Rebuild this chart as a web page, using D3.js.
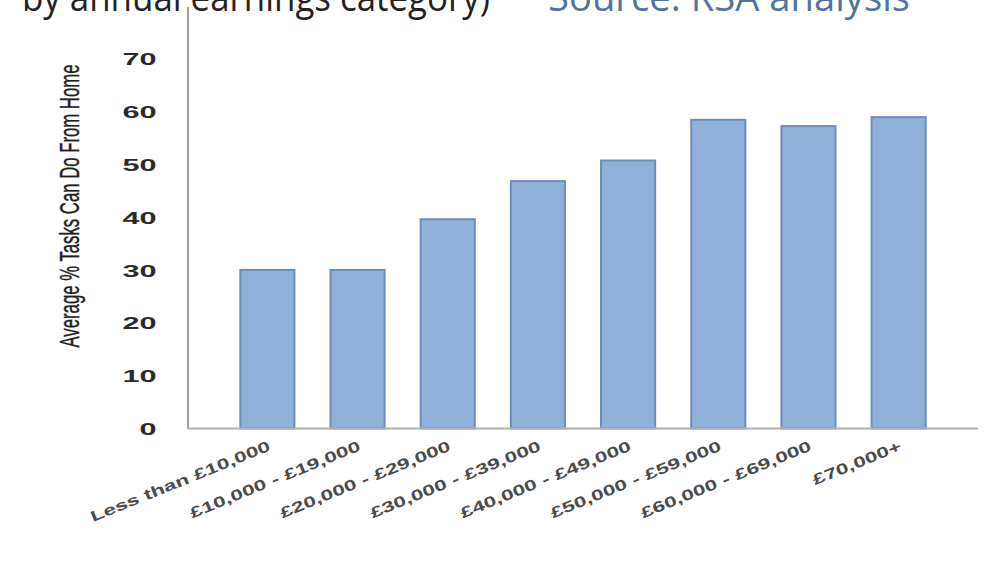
<!DOCTYPE html>
<html>
<head>
<meta charset="utf-8">
<script src="https://cdn.jsdelivr.net/npm/d3@7"></script>
<style>
  html, body { margin: 0; padding: 0; background: #fff; }
  svg { display: block; }
</style>
</head>
<body>
<svg id="chart" width="1002" height="566"></svg>
<script>
'use strict';

var categories = ['Less than £10,000', '£10,000 - £19,000', '£20,000 - £29,000',
                  '£30,000 - £39,000', '£40,000 - £49,000', '£50,000 - £59,000',
                  '£60,000 - £69,000', '£70,000+'];
var values = [30, 30, 39.6, 46.8, 50.7, 58.4, 57.2, 58.9];
var yTicks = [0, 10, 20, 30, 40, 50, 60, 70];
var yLabel = 'Average % Tasks Can Do From Home';
var titleText = 'by annual earnings category)';
var sourceText = 'Source: RSA analysis';

var svg = d3.select('#chart');

var x = d3.scaleBand().domain(categories).range([188, 978])
  .paddingInner(0.4).paddingOuter(0.58);
var y = d3.scaleLinear().domain([0, 80]).range([428.5, 5.6]);

// heading, cropped by the top edge as in the source image
svg.append('text').attr('x', 22).attr('y', 11)
  .style('font-family', 'Open Sans, sans-serif').style('font-size', '38px')
  .attr('fill', '#222').text(titleText)
  .attr('textLength', 468).attr('lengthAdjust', 'spacingAndGlyphs');
svg.append('text').attr('x', 548).attr('y', 11)
  .style('font-family', 'Open Sans, sans-serif').style('font-size', '38px')
  .attr('fill', '#54729f').text(sourceText)
  .attr('textLength', 362).attr('lengthAdjust', 'spacingAndGlyphs');

// bars
svg.append('g').selectAll('rect').data(values).enter().append('rect')
  .attr('x', function(d, i) { return x(categories[i]); })
  .attr('y', function(d) { return y(d); })
  .attr('width', x.bandwidth())
  .attr('height', function(d) { return y(0) - y(d); })
  .attr('fill', '#8fb1d9').attr('stroke', '#6a8dbb').attr('stroke-width', 2);

// axes
var ya = svg.append('g').attr('transform', 'translate(188,0)')
  .call(d3.axisLeft(y).tickValues(yTicks).tickSize(0).tickFormat(d3.format('d')));
ya.select('.domain').remove();
ya.selectAll('text')
  .attr('x', -17.5).attr('dy', '0.36em')
  .attr('transform', 'scale(1.8,1)')
  .style('font-family', 'Liberation Sans, Arial, sans-serif')
  .style('font-size', '17px').style('font-weight', 'bold').attr('fill', '#2a2a2a');

svg.append('line').attr('x1', 188).attr('x2', 188).attr('y1', 7).attr('y2', y(0))
  .attr('stroke', '#a0a0a0').attr('stroke-width', 2);
svg.append('line').attr('x1', 187).attr('x2', 978).attr('y1', y(0)).attr('y2', y(0))
  .attr('stroke', '#b0b0b0').attr('stroke-width', 2);

// rotated category labels
svg.append('g').selectAll('text').data(categories).enter().append('text')
  .attr('transform', function(d) {
    return 'translate(' + (x(d) + x.bandwidth() / 2 + 4) + ',' + 450 + ') rotate(-22) scale(1.5,1)';
  })
  .attr('text-anchor', 'end')
  .style('font-family', 'Liberation Sans, Arial, sans-serif')
  .style('font-size', '15px').style('font-weight', 'bold').attr('fill', '#4a4a4a')
  .text(function(d) { return d; });

// y axis title
svg.append('text')
  .attr('transform', 'translate(79,206) rotate(-90)')
  .attr('text-anchor', 'middle')
  .style('font-family', 'Liberation Sans Narrow, Liberation Sans, Arial, sans-serif')
  .style('font-size', '27px').attr('fill', '#1e1e1e')
  .attr('stroke', '#1e1e1e').attr('stroke-width', 0.4)
  .attr('textLength', 283).attr('lengthAdjust', 'spacingAndGlyphs')
  .text(yLabel);
</script>
</body>
</html>
